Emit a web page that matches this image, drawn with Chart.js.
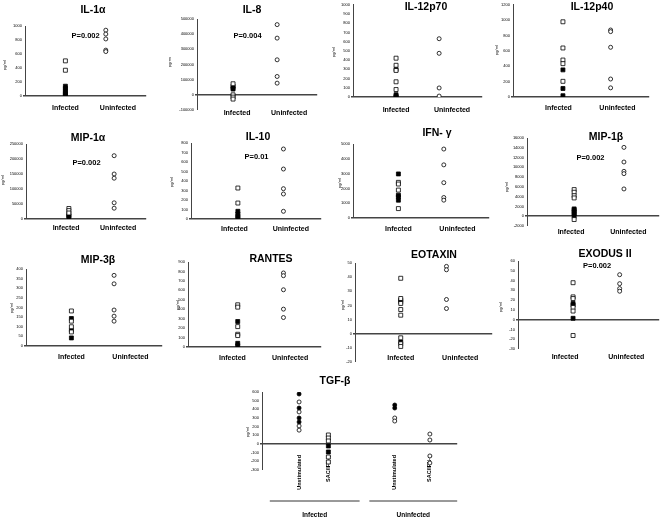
<!DOCTYPE html>
<html>
<head>
<meta charset="utf-8">
<script src="https://cdn.jsdelivr.net/npm/chart.js@4.4.1/dist/chart.umd.min.js"></script>
<style>
  html, body { margin: 0; padding: 0; background: #fff; }
  #fig { position: relative; width: 664px; height: 527px; overflow: hidden; }
  #fig canvas { position: absolute; }
</style>
</head>
<body>
<div id="fig"></div>
<script>
'use strict';

// ---- data (pg/ml) ----
const GROUPS = ['Infected', 'Uninfected'];
const TGF_CATEGORIES = ['Unstimulated', 'SAC/IFN-γ', 'Unstimulated', 'SAC/IFN-γ'];

const IL1A_INF_OPEN = [502, 368];
const IL1A_INF_FILLED = [140, 110, 80, 50, 30, 10];
const IL1A_UNINF = [940, 885, 815, 655, 635];

const IL8_INF_OPEN = [73000, 0, -15000, -28000];
const IL8_INF_FILLED = [57000, 47000, 38000];
const IL8_UNINF = [463000, 374000, 231000, 121000, 77000];

const IL12P70_INF_OPEN = [421, 344, 288, 165, 81];
const IL12P70_INF_FILLED = [298, 25, 10, 0];
const IL12P70_UNINF = [632, 474, 98, 10];

const IL12P40_INF_OPEN = [979, 638, 481, 434, 204];
const IL12P40_INF_FILLED = [353, 111, 17];
const IL12P40_UNINF = [872, 851, 647, 234, 119];

const MIP1A_INF_OPEN = [35000, 28000, 20000];
const MIP1A_INF_FILLED = [15000, 10000, 5000];
const MIP1A_UNINF = [211000, 150000, 136000, 54000, 36000];

const IL10_INF_OPEN = [326, 168];
const IL10_INF_FILLED = [81, 53, 28, 10];
const IL10_UNINF = [737, 526, 319, 263, 81];

const IFNG_INF_OPEN = [2409, 2295, 1886, 636];
const IFNG_INF_FILLED = [2977, 1545, 1432, 1205];
const IFNG_UNINF = [4659, 3591, 2386, 1386, 1205];

const MIP1B_INF_OPEN = [5450, 4900, 4200, 3740, -680];
const MIP1B_INF_FILLED = [1500, 1220, 816, 476, 0];
const MIP1B_UNINF = [14080, 11090, 9180, 8710, 5580];

const MIP3B_INF_OPEN = [182, 129, 100, 73];
const MIP3B_INF_FILLED = [143, 82, 42];
const MIP3B_UNINF = [367, 323, 187, 155, 129];

const RANTES_INF_OPEN = [447, 422, 216, 135, 121];
const RANTES_INF_FILLED = [270, 39, 14];
const RANTES_UNINF = [784, 755, 606, 401, 312];

const EOTAXIN_INF_OPEN = [39.2, 24.9, 21.4, 17.1, 13.1, -2.9, -7.1, -9];
const EOTAXIN_INF_FILLED = [23.8, 22.6, -5.9];
const EOTAXIN_UNINF = [47.6, 45.2, 24.2, 17.8];

const EXODUS_INF_OPEN = [37.8, 23.3, 21.6, 12.5, 8.8, -16.2];
const EXODUS_INF_FILLED = [16.6, 14.9, 1.4];
const EXODUS_UNINF = [46, 36.8, 31.8, 29.1];

const TGF_INF_UNSTIM_OPEN = [485, 370, 208, 160];
const TGF_INF_UNSTIM_FILLED = [577, 415, 300, 254];
const TGF_INF_SAC_OPEN = [104, 69, 35, -150, -208];
const TGF_INF_SAC_FILLED = [-23, -92];
const TGF_UNINF_UNSTIM_OPEN = [300, 265];
const TGF_UNINF_UNSTIM_FILLED = [450, 415];
const TGF_UNINF_SAC = [115, 46, -138, -219];

// ---- layout: plot boxes in page pixels [left, top(max), right, bottom(min)] ----
const FONT = '"Liberation Sans", Arial, sans-serif';

const PANELS = [
  { title: 'IL-1α', box: [25, 26, 147, 96], y: [0, 1000, 100], t: [93, 10], yl: [5, 65], lbl: 12, ix: 1.0, ux: 2.0,
    p: ['P=0.002', 1.5, 857], sets: [IL1A_INF_OPEN, IL1A_INF_FILLED, IL1A_UNINF] },
  { title: 'IL-8', box: [197, 19, 318, 110], y: [-100000, 500000, 100000], t: [252, 10], yl: [170, 62], lbl: 3, ix: 0.9, ux: 2.0,
    p: ['P=0.004', 1.26, 388000], sets: [IL8_INF_OPEN, IL8_INF_FILLED, IL8_UNINF] },
  { title: 'IL-12p70', box: [353, 2, 483, 97], y: [0, 1000, 100], t: [426, 7], yl: [334, 52], lbl: 13, ix: 1.0, ux: 2.0,
    sets: [IL12P70_INF_OPEN, IL12P70_INF_FILLED, IL12P70_UNINF] },
  { title: 'IL-12p40', box: [513, 3, 650, 97], y: [0, 1200, 200], t: [592, 7], yl: [497, 50], lbl: 11, ix: 1.1, ux: 2.15,
    sets: [IL12P40_INF_OPEN, IL12P40_INF_FILLED, IL12P40_UNINF] },
  { title: 'MIP-1α', box: [26, 144, 147, 219], y: [0, 250000, 50000], t: [88, 138], yl: [3, 180], lbl: 9, ix: 1.07, ux: 2.2,
    p: ['P=0.002', 1.51, 186700], sets: [MIP1A_INF_OPEN, MIP1A_INF_FILLED, MIP1A_UNINF] },
  { title: 'IL-10', box: [191, 143, 322, 219], y: [0, 800, 100], t: [258, 137], yl: [172, 182], lbl: 10, ix: 1.08, ux: 2.13,
    p: ['P=0.01', 1.51, 653], sets: [IL10_INF_OPEN, IL10_INF_FILLED, IL10_UNINF] },
  { title: 'IFN- γ', box: [353, 144, 490, 218], y: [0, 5000, 500], t: [437, 133], yl: [340, 183], lbl: 11, ix: 1.0, ux: 2.0,
    sets: [IFNG_INF_OPEN, IFNG_INF_FILLED, IFNG_UNINF] },
  { title: 'MIP-1β', box: [527, 138, 662, 226], y: [-2000, 16000, 2000], t: [606, 137], yl: [507, 187], lbl: 6, ix: 1.07, ux: 2.2,
    p: ['P=0.002', 1.44, 11950], sets: [MIP1B_INF_OPEN, MIP1B_INF_FILLED, MIP1B_UNINF] },
  { title: 'MIP-3β', box: [26, 269, 163, 346], y: [0, 400, 50], t: [98, 260], yl: [12, 308], lbl: 11, ix: 1.0, ux: 1.94,
    sets: [MIP3B_INF_OPEN, MIP3B_INF_FILLED, MIP3B_UNINF] },
  { title: 'RANTES', box: [188, 262, 322, 347], y: [0, 900, 100], t: [271, 259], yl: [178, 305], lbl: 11, ix: 1.12, ux: 2.15,
    sets: [RANTES_INF_OPEN, RANTES_INF_FILLED, RANTES_UNINF] },
  { title: 'EOTAXIN', box: [355, 263, 493, 362], y: [-20, 50, 10], t: [434, 255], yl: [343, 305], lbl: -4, ix: 1.0, ux: 2.0,
    sets: [EOTAXIN_INF_OPEN, EOTAXIN_INF_FILLED, EOTAXIN_UNINF] },
  { title: 'EXODUS II', box: [518, 261, 662, 349], y: [-30, 60, 10], t: [605, 254], yl: [501, 307], lbl: 8, ix: 1.17, ux: 2.16,
    p: ['P=0.002', 1.68, 54.9], sets: [EXODUS_INF_OPEN, EXODUS_INF_FILLED, EXODUS_UNINF] },
];

const TGF_PANEL = {
  title: 'TGF-β', box: [262, 392, 458, 470], y: [-300, 600, 100], t: [335, 381], yl: [248, 432],
  xs: [0.19, 0.34, 0.68, 0.86],
  brackets: [[0.04, 0.5, 'Infected'], [0.55, 1.0, 'Uninfected']],
};

// ---- drawing helpers ----
const openSquare = { pointStyle: 'rect', pointRadius: 2.8, backgroundColor: '#fff', borderColor: '#000', borderWidth: 0.8 };
const filledSquare = { pointStyle: 'rect', pointRadius: 2.8, backgroundColor: '#000', borderColor: '#000', borderWidth: 0.8 };
const openCircle = { pointStyle: 'circle', pointRadius: 2, backgroundColor: '#fff', borderColor: '#000', borderWidth: 0.8 };
const filledCircle = { pointStyle: 'circle', pointRadius: 2, backgroundColor: '#000', borderColor: '#000', borderWidth: 0.8 };

const decoPlugin = {
  id: 'deco',
  afterDraw(chart, args, o) {
    const { ctx } = chart;
    ctx.save();
    ctx.fillStyle = '#000';
    ctx.textAlign = 'center';
    ctx.textBaseline = 'middle';
    ctx.font = `bold 10.5px ${FONT}`;
    ctx.fillText(o.title, o.t[0] - o.ox, o.t[1] - o.oy);
    if (o.p) {
      ctx.font = `bold 7.5px ${FONT}`;
      ctx.fillText(o.p[0], chart.scales.x.getPixelForValue(o.p[1]), chart.scales.y.getPixelForValue(o.p[2]));
    }
    if (o.brackets) {
      const sx = chart.scales.x;
      ctx.strokeStyle = '#000';
      ctx.lineWidth = 0.8;
      ctx.font = `bold 6.5px ${FONT}`;
      o.brackets.forEach(([a, b, label]) => {
        const x0 = sx.getPixelForValue(a), x1 = sx.getPixelForValue(b);
        ctx.beginPath();
        ctx.moveTo(x0, 501 - o.oy);
        ctx.lineTo(x1, 501 - o.oy);
        ctx.stroke();
        ctx.fillText(label, (x0 + x1) / 2, 515 - o.oy);
      });
    }
    ctx.translate(o.yl[0] - o.ox, o.yl[1] - o.oy);
    ctx.rotate(-Math.PI / 2);
    ctx.font = `4px ${FONT}`;
    ctx.fillText('pg/ml', 0, 0);
    ctx.restore();
  },
};

function yScale(p, left, axL) {
  return {
    type: 'linear',
    min: p.y[0],
    max: p.y[1],
    afterFit: (s) => { s.width = axL - left; },
    ticks: { stepSize: p.y[2], color: '#000', padding: 1, font: { size: 4, family: FONT }, callback: (v) => String(v) },
    grid: {
      color: (c) => (c.tick && c.tick.value === 0 ? '#444' : 'transparent'),
      lineWidth: (c) => (c.tick && c.tick.value === 0 ? 1.5 : 0),
      tickColor: '#444',
      tickLength: 2,
      drawTicks: true,
    },
    border: { display: true, color: '#444', width: 1 },
  };
}

function makeChart(p, xOpts, datasets) {
  const [axL, axT, axR, axB] = p.box;
  const left = Math.max(0, axL - 28);
  const right = Math.min(664, axR + 4);
  const top = Math.max(0, Math.min(p.t[1] - 9, axT - 4));
  const bottom = Math.min(527, axB + (xOpts.bottomRoom || 22));

  const canvas = document.createElement('canvas');
  canvas.width = right - left;
  canvas.height = bottom - top;
  canvas.style.left = left + 'px';
  canvas.style.top = top + 'px';
  document.getElementById('fig').appendChild(canvas);

  // category axis hangs off the lowest y value, so its labels are free to sit anywhere
  const x = Object.assign({
    type: 'linear',
    position: { y: p.y[0] },
    grid: { display: false, drawTicks: false },
    border: { display: false },
  }, xOpts.scale);

  return new Chart(canvas, {
    type: 'scatter',
    data: { datasets },
    options: {
      responsive: false,
      animation: false,
      events: [],
      layout: { padding: { top: axT - top, right: right - axR, left: 0, bottom: bottom - axB } },
      scales: { x, y: yScale(p, left, axL) },
      plugins: {
        legend: { display: false },
        tooltip: { enabled: false },
        deco: { title: p.title, t: p.t, yl: p.yl, p: p.p, brackets: p.brackets, ox: left, oy: top },
      },
    },
    plugins: [decoPlugin],
  });
}

// ---- the 12 two-group panels ----
PANELS.forEach((p) => {
  const [infOpen, infFilled, uninf] = p.sets;
  const datasets = [
    Object.assign({ data: infOpen.map((v) => ({ x: p.ix, y: v })) }, openSquare),
    Object.assign({ data: infFilled.map((v) => ({ x: p.ix, y: v })) }, filledSquare),
    Object.assign({ data: uninf.map((v) => ({ x: p.ux, y: v })) }, openCircle),
  ];
  makeChart(p, {
    scale: {
      min: 0,
      max: 3,
      afterBuildTicks: (s) => { s.ticks = [{ value: 1 }, { value: 2.3 }]; },
      ticks: {
        autoSkip: false, maxRotation: 0, color: '#000', padding: p.lbl - 4.2,
        font: { size: 7, weight: 'bold', family: FONT },
        callback: (v, i) => GROUPS[i],
      },
    },
  }, datasets);
});

// ---- TGF-β panel ----
(function () {
  const p = TGF_PANEL;
  const [a, b, c, d] = p.xs;
  const pts = (arr, xv) => arr.map((v) => ({ x: xv, y: v }));
  const datasets = [
    Object.assign({ data: pts(TGF_INF_UNSTIM_OPEN, a) }, openCircle),
    Object.assign({ data: pts(TGF_INF_UNSTIM_FILLED, a) }, filledCircle),
    Object.assign({ data: pts(TGF_INF_SAC_OPEN, b) }, openSquare),
    Object.assign({ data: pts(TGF_INF_SAC_FILLED, b) }, filledSquare),
    Object.assign({ data: pts(TGF_UNINF_UNSTIM_OPEN, c) }, openCircle),
    Object.assign({ data: pts(TGF_UNINF_UNSTIM_FILLED, c) }, filledCircle),
    Object.assign({ data: pts(TGF_UNINF_SAC, d) }, openCircle),
  ];
  makeChart(p, {
    bottomRoom: 57,
    scale: {
      min: 0,
      max: 1,
      afterBuildTicks: (s) => { s.ticks = p.xs.map((v) => ({ value: v })); },
      ticks: {
        autoSkip: false, minRotation: 90, maxRotation: 90, color: '#000', padding: -15,
        font: { size: 5.5, weight: 'bold', family: FONT },
        callback: (v, i) => TGF_CATEGORIES[i],
      },
    },
  }, datasets);
})();
</script>
</body>
</html>
